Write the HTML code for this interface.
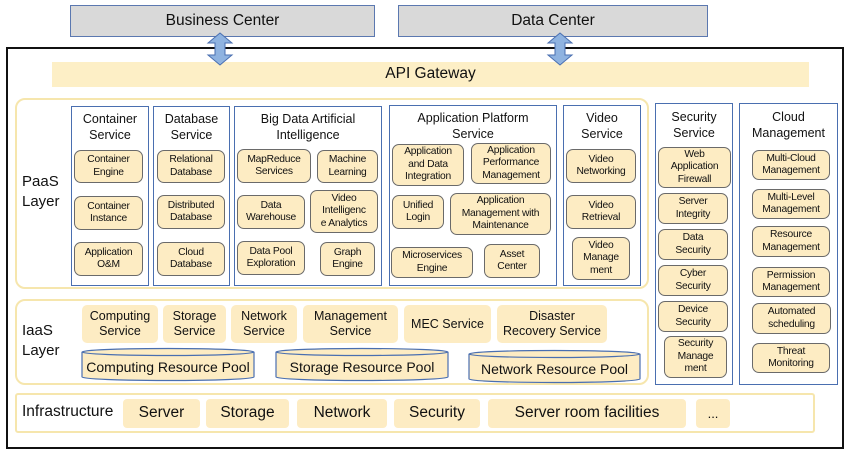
<!DOCTYPE html>
<html><head><meta charset="utf-8"><style>
body{margin:0;width:850px;height:454px;background:#fff;position:relative;overflow:hidden;font-family:"Liberation Sans",sans-serif;color:#111}
div{position:absolute;box-sizing:border-box}
.c{display:flex;align-items:center;justify-content:center;text-align:center;line-height:1.2}
.g{background:#d9d9d9;border:1.5px solid #5b78b0;font-size:15.5px}
.col{border:1.5px solid #4a6fb0;background:#fff}
.t{font-size:12.5px;left:0;right:0;text-align:center;line-height:1.3}
.b{background:#fdecc3;border:1.2px solid #6a6a6a;border-radius:7px;font-size:10.3px;letter-spacing:-0.25px}
.y{background:#fdecc3;border-radius:5px;font-size:12.5px}
.lay{border:2px solid #f6e6ad;border-radius:10px;background:#fff}
.lab{font-size:15px;line-height:1.35}
.i{background:#fdecc3;border-radius:4px;font-size:15.5px}
</style></head><body>
<div class="c g" style="left:70px;top:5px;width:305px;height:32px">Business Center</div>
<div class="c g" style="left:398px;top:5px;width:310px;height:32px">Data Center</div>
<div style="left:6px;top:47px;width:838px;height:402px;border:2px solid #111"></div>
<div class="c" style="left:52px;top:62px;width:757px;height:25px;background:#fdefc6;font-size:15.5px">API Gateway</div>
<svg style="position:absolute;left:0;top:0" width="850" height="454">
<g fill="#8fb3e0" stroke="#4a6fb0" stroke-width="1">
<path d="M220 33 L232 43 L225 43 L225 55 L232 55 L220 65 L208 55 L215 55 L215 43 L208 43 Z"/>
<path d="M560 33 L572 43 L565 43 L565 55 L572 55 L560 65 L548 55 L555 55 L555 43 L548 43 Z"/>
</g></svg>

<!-- PaaS -->
<div class="lay" style="left:15px;top:98px;width:634px;height:191px"></div>
<div class="lab" style="left:22px;top:172px">PaaS<br>Layer</div>

<div class="col" style="left:71px;top:106px;width:78px;height:180px"><div class="t" style="top:4px">Container<br>Service</div></div>
<div class="c b" style="left:74px;top:150px;width:69px;height:33px">Container<br>Engine</div>
<div class="c b" style="left:74px;top:196px;width:69px;height:34px">Container<br>Instance</div>
<div class="c b" style="left:74px;top:242px;width:69px;height:34px">Application<br>O&amp;M</div>

<div class="col" style="left:153px;top:106px;width:77px;height:180px"><div class="t" style="top:4px">Database<br>Service</div></div>
<div class="c b" style="left:157px;top:150px;width:68px;height:33px">Relational<br>Database</div>
<div class="c b" style="left:157px;top:195px;width:68px;height:34px">Distributed<br>Database</div>
<div class="c b" style="left:157px;top:242px;width:68px;height:34px">Cloud<br>Database</div>

<div class="col" style="left:234px;top:106px;width:148px;height:180px"><div class="t" style="top:4px">Big Data Artificial<br>Intelligence</div></div>
<div class="c b" style="left:237px;top:149px;width:74px;height:34px">MapReduce<br>Services</div>
<div class="c b" style="left:317px;top:150px;width:61px;height:33px">Machine<br>Learning</div>
<div class="c b" style="left:237px;top:195px;width:68px;height:34px">Data<br>Warehouse</div>
<div class="c b" style="left:310px;top:190px;width:68px;height:43px">Video<br>Intelligenc<br>e Analytics</div>
<div class="c b" style="left:237px;top:241px;width:68px;height:34px">Data Pool<br>Exploration</div>
<div class="c b" style="left:320px;top:242px;width:55px;height:34px">Graph<br>Engine</div>

<div class="col" style="left:389px;top:105px;width:168px;height:181px"><div class="t" style="top:4px">Application Platform<br>Service</div></div>
<div class="c b" style="left:392px;top:144px;width:72px;height:42px">Application<br>and Data<br>Integration</div>
<div class="c b" style="left:471px;top:143px;width:80px;height:41px">Application<br>Performance<br>Management</div>
<div class="c b" style="left:392px;top:195px;width:52px;height:34px">Unified<br>Login</div>
<div class="c b" style="left:450px;top:193px;width:101px;height:42px">Application<br>Management with<br>Maintenance</div>
<div class="c b" style="left:391px;top:247px;width:82px;height:31px">Microservices<br>Engine</div>
<div class="c b" style="left:484px;top:244px;width:56px;height:34px">Asset<br>Center</div>

<div class="col" style="left:563px;top:105px;width:78px;height:181px"><div class="t" style="top:4px">Video<br>Service</div></div>
<div class="c b" style="left:566px;top:149px;width:70px;height:34px">Video<br>Networking</div>
<div class="c b" style="left:566px;top:195px;width:70px;height:34px">Video<br>Retrieval</div>
<div class="c b" style="left:572px;top:237px;width:58px;height:43px">Video<br>Manage<br>ment</div>

<div class="col" style="left:655px;top:103px;width:78px;height:282px"><div class="t" style="top:5px">Security<br>Service</div></div>
<div class="c b" style="left:658px;top:147px;width:73px;height:41px">Web<br>Application<br>Firewall</div>
<div class="c b" style="left:658px;top:193px;width:70px;height:31px">Server<br>Integrity</div>
<div class="c b" style="left:658px;top:229px;width:70px;height:31px">Data<br>Security</div>
<div class="c b" style="left:658px;top:265px;width:70px;height:31px">Cyber<br>Security</div>
<div class="c b" style="left:658px;top:301px;width:70px;height:31px">Device<br>Security</div>
<div class="c b" style="left:664px;top:336px;width:63px;height:42px">Security<br>Manage<br>ment</div>

<div class="col" style="left:739px;top:103px;width:99px;height:282px"><div class="t" style="top:5px">Cloud<br>Management</div></div>
<div class="c b" style="left:752px;top:150px;width:78px;height:30px">Multi-Cloud<br>Management</div>
<div class="c b" style="left:752px;top:189px;width:78px;height:30px">Multi-Level<br>Management</div>
<div class="c b" style="left:752px;top:226px;width:78px;height:31px">Resource<br>Management</div>
<div class="c b" style="left:752px;top:267px;width:78px;height:30px">Permission<br>Management</div>
<div class="c b" style="left:752px;top:303px;width:79px;height:31px">Automated<br>scheduling</div>
<div class="c b" style="left:752px;top:343px;width:78px;height:30px">Threat<br>Monitoring</div>

<!-- IaaS -->
<div class="lay" style="left:15px;top:299px;width:634px;height:86px"></div>
<div class="lab" style="left:22px;top:321px">IaaS<br>Layer</div>
<div class="c y" style="left:82px;top:305px;width:76px;height:38px">Computing<br>Service</div>
<div class="c y" style="left:163px;top:305px;width:63px;height:38px">Storage<br>Service</div>
<div class="c y" style="left:231px;top:305px;width:66px;height:38px">Network<br>Service</div>
<div class="c y" style="left:303px;top:305px;width:95px;height:38px">Management<br>Service</div>
<div class="c y" style="left:404px;top:305px;width:87px;height:38px">MEC Service</div>
<div class="c y" style="left:497px;top:305px;width:110px;height:38px">Disaster<br>Recovery Service</div>
<svg style="position:absolute;left:0;top:0" width="850" height="454">
<g fill="#fdecc3" stroke="#4a6fb0" stroke-width="1.2">
<path d="M82 352 L82 377 A86 3.5 0 0 0 254 377 L254 352"/><ellipse cx="168" cy="352" rx="86" ry="3.5"/>
<path d="M276 352 L276 377 A86 3.5 0 0 0 448 377 L448 352"/><ellipse cx="362" cy="352" rx="86" ry="3.5"/>
<path d="M469 354 L469 379 A85.5 3.5 0 0 0 640 379 L640 354"/><ellipse cx="554.5" cy="354" rx="85.5" ry="3.5"/>
</g>
<g font-family="Liberation Sans" font-size="14" text-anchor="middle" fill="#111">
<text x="168" y="372">Computing Resource Pool</text>
<text x="362" y="372">Storage Resource Pool</text>
<text x="554.5" y="374">Network Resource Pool</text>
</g></svg>

<!-- Infra -->
<div class="lay" style="left:15px;top:393px;width:800px;height:40px;border-radius:3px"></div>
<div class="lab" style="left:22px;top:402px;font-size:15.5px">Infrastructure</div>
<div class="c i" style="left:123px;top:399px;width:77px;height:29px">Server</div>
<div class="c i" style="left:206px;top:399px;width:83px;height:29px">Storage</div>
<div class="c i" style="left:297px;top:399px;width:90px;height:29px">Network</div>
<div class="c i" style="left:394px;top:399px;width:86px;height:29px">Security</div>
<div class="c i" style="left:488px;top:399px;width:198px;height:29px">Server room facilities</div>
<div class="c i" style="left:696px;top:399px;width:34px;height:29px;font-size:13px">...</div>
</body></html>
